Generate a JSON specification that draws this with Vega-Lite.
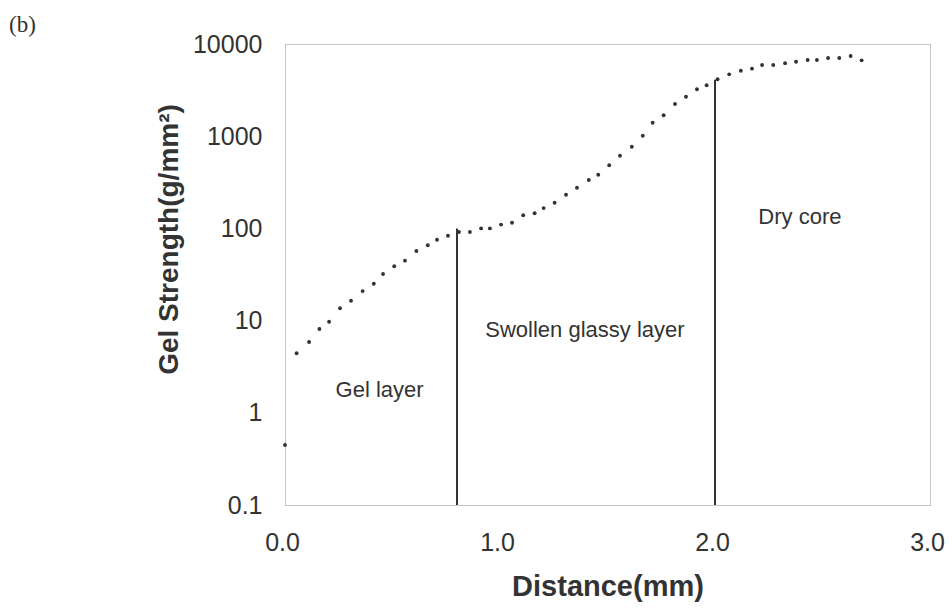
{
  "$schema": "https://vega.github.io/schema/vega-lite/v6.json",
  "width": 645,
  "height": 461,
  "autosize": {"type": "none"},
  "padding": {"left": 285, "top": 44, "right": 22, "bottom": 103},
  "background": "white",
  "title": {
    "text": "(b)",
    "anchor": "start",
    "frame": "group",
    "orient": "top",
    "dx": -276,
    "dy": 28,
    "offset": 0,
    "baseline": "bottom",
    "font": "Liberation Serif",
    "fontSize": 23,
    "fontWeight": "normal",
    "color": "#333"
  },
  "config": {
    "view": {"stroke": "#8a8a8a", "strokeDash": [1, 1], "strokeWidth": 1},
    "font": "Liberation Sans"
  },
  "datasets": {
    "points": [
      {"d": 0.0, "g": 0.448},
      {"d": 0.054, "g": 4.42},
      {"d": 0.112, "g": 5.86},
      {"d": 0.16, "g": 8.11},
      {"d": 0.205, "g": 9.73},
      {"d": 0.256, "g": 13.6},
      {"d": 0.307, "g": 16.4},
      {"d": 0.361, "g": 20.9},
      {"d": 0.413, "g": 25.1},
      {"d": 0.456, "g": 32.0},
      {"d": 0.508, "g": 38.8},
      {"d": 0.558, "g": 44.7},
      {"d": 0.611, "g": 56.9},
      {"d": 0.664, "g": 65.6},
      {"d": 0.707, "g": 75.4},
      {"d": 0.758, "g": 83.3},
      {"d": 0.809, "g": 91.4},
      {"d": 0.86, "g": 91.4},
      {"d": 0.912, "g": 100},
      {"d": 0.953, "g": 100},
      {"d": 1.005, "g": 110},
      {"d": 1.056, "g": 115},
      {"d": 1.108, "g": 139},
      {"d": 1.161, "g": 146},
      {"d": 1.203, "g": 166},
      {"d": 1.254, "g": 190},
      {"d": 1.307, "g": 232},
      {"d": 1.358, "g": 276},
      {"d": 1.413, "g": 335},
      {"d": 1.457, "g": 382},
      {"d": 1.508, "g": 484},
      {"d": 1.558, "g": 613},
      {"d": 1.613, "g": 769},
      {"d": 1.664, "g": 1012},
      {"d": 1.71, "g": 1400},
      {"d": 1.761, "g": 1686},
      {"d": 1.814, "g": 2236},
      {"d": 1.865, "g": 2681},
      {"d": 1.916, "g": 3226},
      {"d": 1.961, "g": 3565},
      {"d": 2.012, "g": 4141},
      {"d": 2.066, "g": 4690},
      {"d": 2.12, "g": 5134},
      {"d": 2.172, "g": 5398},
      {"d": 2.219, "g": 5919},
      {"d": 2.271, "g": 5919},
      {"d": 2.326, "g": 6175},
      {"d": 2.377, "g": 6425},
      {"d": 2.431, "g": 6703},
      {"d": 2.474, "g": 6703},
      {"d": 2.526, "g": 7047},
      {"d": 2.578, "g": 7047},
      {"d": 2.631, "g": 7413},
      {"d": 2.682, "g": 6653}
    ],
    "lines": [
      {"d": 0.8, "lo": 0.1, "hi": 100},
      {"d": 2.0, "lo": 0.1, "hi": 4100}
    ],
    "labels": [
      {"d": 0.44, "g": 1.77, "text": "Gel layer"},
      {"d": 1.395, "g": 7.9, "text": "Swollen glassy layer"},
      {"d": 2.395, "g": 133, "text": "Dry core"}
    ]
  },
  "layer": [
    {
      "data": {"name": "points"},
      "mark": {"type": "circle", "size": 15, "color": "#333", "opacity": 1},
      "encoding": {
        "x": {
          "field": "d",
          "type": "quantitative",
          "scale": {"domain": [0, 3], "nice": false, "zero": false},
          "axis": {
            "title": "Distance(mm)",
            "values": [0, 1, 2, 3],
            "format": ".1f",
            "grid": false,
            "domain": false,
            "ticks": false,
            "labelFlush": false,
            "labelOffset": -3,
            "labelFontSize": 25,
            "labelColor": "#333",
            "labelPadding": 25,
            "labelFont": "Liberation Sans",
            "titleFont": "Liberation Sans",
            "titleFontSize": 29,
            "titleFontWeight": "bold",
            "titleColor": "#333",
            "titlePadding": 17
          }
        },
        "y": {
          "field": "g",
          "type": "quantitative",
          "scale": {"type": "log", "domain": [0.1, 10000], "nice": false},
          "axis": {
            "title": "Gel Strength(g/mm²)",
            "values": [0.1, 1, 10, 100, 1000, 10000],
            "format": "~g",
            "grid": false,
            "domain": false,
            "ticks": false,
            "labelFontSize": 25,
            "labelColor": "#333",
            "labelPadding": 23,
            "labelFont": "Liberation Sans",
            "titleFont": "Liberation Sans",
            "titleFontSize": 28,
            "titleFontWeight": "bold",
            "titleColor": "#333",
            "titlePadding": 9,
            "titleY": 195
          }
        }
      }
    },
    {
      "data": {"name": "lines"},
      "mark": {"type": "rule", "color": "#333", "strokeWidth": 2},
      "encoding": {
        "x": {"field": "d", "type": "quantitative"},
        "y": {"field": "lo", "type": "quantitative"},
        "y2": {"field": "hi"}
      }
    },
    {
      "data": {"name": "labels"},
      "mark": {"type": "text", "fontSize": 22, "color": "#333", "font": "Liberation Sans", "align": "center", "baseline": "middle"},
      "encoding": {
        "x": {"field": "d", "type": "quantitative"},
        "y": {"field": "g", "type": "quantitative"},
        "text": {"field": "text"}
      }
    }
  ]
}
